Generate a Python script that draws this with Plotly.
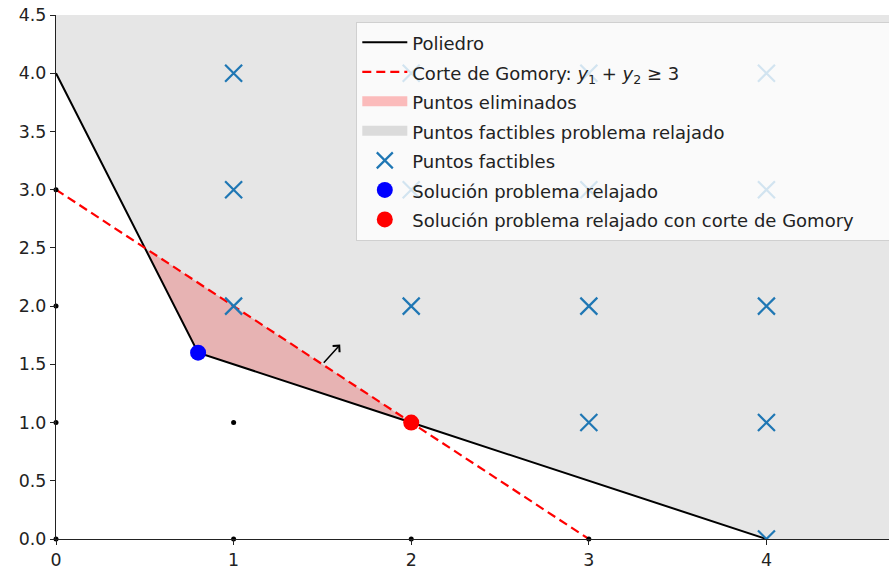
import plotly.graph_objects as go

# ---- data ----
poly_x = [0, 0.8, 2, 4]
poly_y = [4, 1.6, 1, 0]
cut_x = [0, 3]
cut_y = [3, 0]
elim_x = [0.5, 0.8, 2]
elim_y = [2.5, 1.6, 1]
feas_x = [1, 1, 1, 2, 2, 2, 3, 3, 3, 3, 4, 4, 4, 4, 4]
feas_y = [2, 3, 4, 2, 3, 4, 1, 2, 3, 4, 0, 1, 2, 3, 4]
infeas_x = [0, 0, 0, 0, 1, 1, 2, 3]
infeas_y = [0, 1, 2, 3, 0, 1, 0, 0]
relax_sol = (0.8, 1.6)
gomory_sol = (2, 1)
arrow_tail = (1.5, 1.5)
arrow_head = (1.6, 1.67)
x_range = [0, 4.69]
y_range = [0, 4.5]
x_ticks = [0, 1, 2, 3, 4]
y_ticks = [0, 0.5, 1, 1.5, 2, 2.5, 3, 3.5, 4, 4.5]

FONT = "DejaVu Sans"
TXT = 17.4
LEG = 18


def lbl(s, pad=0):
    return f"<span style='font-size:{LEG}px'>{s}{'&nbsp;' * pad}</span>"


fig = go.Figure()

# gray feasible region of the relaxed problem
gx = poly_x + [5, 5, poly_x[0]]
gy = poly_y + [0, 5, 5]
fig.add_trace(go.Scatter(x=gx, y=gy, fill="toself", mode="lines",
                         line=dict(width=0, color="rgba(128,128,128,0)"),
                         fillcolor="rgba(128,128,128,0.2)",
                         showlegend=False, hoverinfo="skip"))
# red eliminated region
fig.add_trace(go.Scatter(x=elim_x + [elim_x[0]], y=elim_y + [elim_y[0]],
                         fill="toself", mode="lines",
                         line=dict(width=0, color="rgba(255,0,0,0)"),
                         fillcolor="rgba(235,0,0,0.22)",
                         showlegend=False, hoverinfo="skip"))
# legend patches for the two regions
fig.add_trace(go.Scatter(x=[None], y=[None], mode="lines",
                         line=dict(width=13, color="rgba(255,0,0,0.25)"),
                         name=lbl("Puntos eliminados"), legendrank=3))
fig.add_trace(go.Scatter(x=[None], y=[None], mode="lines",
                         line=dict(width=13, color="rgba(128,128,128,0.25)"),
                         name=lbl("Puntos factibles problema relajado"), legendrank=4))
# polyhedron
fig.add_trace(go.Scatter(x=poly_x, y=poly_y, mode="lines",
                         line=dict(color="black", width=2),
                         name=lbl("Poliedro"), legendrank=1))
# gomory cut
fig.add_trace(go.Scatter(x=cut_x, y=cut_y, mode="lines",
                         line=dict(color="red", width=2.2, dash="9px,5px"),
                         name=lbl("Corte de Gomory: <i>y</i><sub>1</sub> + <i>y</i><sub>2</sub> ≥ 3"),
                         legendrank=2))
# feasible integer points
fig.add_trace(go.Scatter(x=feas_x, y=feas_y, mode="markers",
                         marker=dict(symbol="x-thin", size=17,
                                     line=dict(color="#1f77b4", width=2.2),
                                     color="#1f77b4"),
                         name=lbl("Puntos factibles"), legendrank=5))
# infeasible integer points (small black dots)
fig.add_trace(go.Scatter(x=infeas_x, y=infeas_y, mode="markers",
                         marker=dict(color="black", size=5),
                         showlegend=False, cliponaxis=False))
# relaxed solution
fig.add_trace(go.Scatter(x=[relax_sol[0]], y=[relax_sol[1]], mode="markers",
                         marker=dict(color="blue", size=16),
                         name=lbl("Solución problema relajado"), legendrank=6))
# relaxed solution with gomory cut
fig.add_trace(go.Scatter(x=[gomory_sol[0]], y=[gomory_sol[1]], mode="markers",
                         marker=dict(color="red", size=16),
                         name=lbl("Solución problema relajado con corte de Gomory", pad=12),
                         legendrank=7))

fig.add_annotation(x=arrow_head[0], y=arrow_head[1], ax=arrow_tail[0], ay=arrow_tail[1],
                   xref="x", yref="y", axref="x", ayref="y", text="",
                   showarrow=True, arrowhead=4, arrowsize=1.2, arrowwidth=1.5,
                   arrowcolor="black", standoff=0, startstandoff=0)

axis_common = dict(showline=True, linecolor="#222", linewidth=1.2,
                   ticks="outside", ticklen=5, tickwidth=1.2, tickcolor="#222",
                   showgrid=False, zeroline=False,
                   tickfont=dict(family=FONT, size=TXT, color="#222"))

fig.update_layout(
    width=889, height=572,
    margin=dict(l=55.5, r=0, t=14.7, b=32.7, autoexpand=False),
    paper_bgcolor="white", plot_bgcolor="white",
    font=dict(family=FONT, size=TXT, color="#222"),
    xaxis=dict(range=x_range, tickvals=x_ticks, ticktext=[str(v) for v in x_ticks],
               **axis_common),
    yaxis=dict(range=y_range, tickvals=y_ticks, ticktext=[f"{v:.1f}" for v in y_ticks],
               **axis_common),
    showlegend=True,
    legend=dict(x=0.3605, y=0.9875, xanchor="left", yanchor="top",
                bgcolor="rgba(255,255,255,0.8)", bordercolor="#d0d0d0", borderwidth=1,
                font=dict(family=FONT, size=20.4, color="#222"),
                itemwidth=45, traceorder="normal"),
)

fig.write_html("out.html")
